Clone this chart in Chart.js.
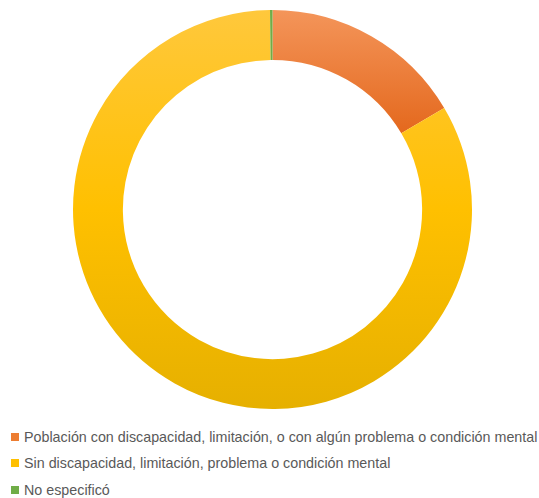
<!DOCTYPE html>
<html>
<head>
<meta charset="utf-8">
<script src="https://cdn.jsdelivr.net/npm/chart.js@4"></script>
<style>
    html, body { margin: 0; padding: 0; background: #fff; }
    #wrap { width: 539px; height: 420px; position: relative; }
    #legend { position: absolute; left: 0; top: 424px; width: 539px; font-family: "Liberation Sans", sans-serif; font-size: 14.3px; color: #595959; }
    .row { position: absolute; left: 11px; height: 16px; display: flex; align-items: center; white-space: nowrap; }
    .box { width: 8px; height: 8px; margin-right: 5px; }
</style>
</head>
<body>
<div id="wrap"><canvas id="chart"></canvas></div>
<div id="legend"></div>
<script>
const labels = [
    "Población con discapacidad, limitación, o con algún problema o condición mental",
    "Sin discapacidad, limitación, problema o condición mental",
    "No especificó",
];
const values = [16.5, 83.3, 0.2];

// top / bottom shades of each slice, plus the legend swatch
const topColors = ["#F4955A", "#FFC83C", "#70AD47"];
const bottomColors = ["#E3661A", "#E6B000", "#70AD47"];
const swatchColors = ["#ED7D31", "#FFC000", "#70AD47"];

document.addEventListener("DOMContentLoaded", () => {
    const ctx = document.getElementById("chart").getContext("2d");

    new Chart(ctx, {
        type: "doughnut",
        data: {
            labels: labels,
            datasets: [
                {
                    data: values,
                    borderWidth: 0,
                    backgroundColor: (c) => {
                        const area = c.chart.chartArea;
                        if (!area) return swatchColors[c.dataIndex];
                        const i = c.dataIndex;
                        let y1 = area.bottom;
                        if (i === 0) y1 = area.top + 130;
                        const g = c.chart.ctx.createLinearGradient(0, area.top, 0, y1);
                        g.addColorStop(0, topColors[i]);
                        if (i === 1) g.addColorStop(0.5, "#FFC000");
                        g.addColorStop(1, bottomColors[i]);
                        return g;
                    },
                },
            ],
        },
        options: {
            responsive: true,
            maintainAspectRatio: false,
            animation: false,
            cutout: "75%",
            layout: { padding: { top: 10, bottom: 11, left: 6, right: 0 } },
            plugins: {
                legend: { display: false },
                tooltip: { enabled: false },
            },
        },
    });

    const legend = document.getElementById("legend");
    const rowTops = [5, 31, 58];
    labels.forEach((lab, i) => {
        const row = document.createElement("div");
        row.className = "row";
        row.style.top = rowTops[i] + "px";
        const box = document.createElement("span");
        box.className = "box";
        box.style.background = swatchColors[i];
        const txt = document.createElement("span");
        txt.textContent = lab;
        row.appendChild(box);
        row.appendChild(txt);
        legend.appendChild(row);
    });
});
</script>
</body>
</html>
